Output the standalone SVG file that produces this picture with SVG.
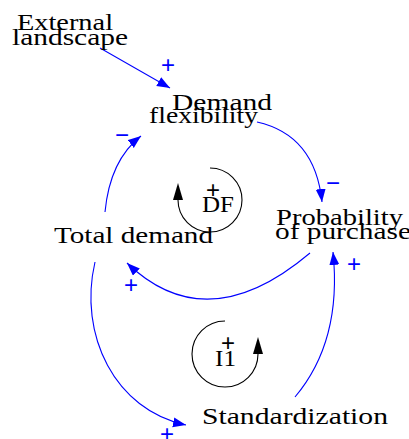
<svg xmlns="http://www.w3.org/2000/svg" width="409" height="439" viewBox="0 0 409 439">
<defs>
<marker id="ab" markerUnits="userSpaceOnUse" markerWidth="16" markerHeight="12" refX="13" refY="5" orient="auto" viewBox="0 0 16 12">
<path d="M0,0 L13,5 L0,10 z" fill="#00f"/>
</marker>
<marker id="ak" markerUnits="userSpaceOnUse" markerWidth="18" markerHeight="12" refX="0" refY="5" orient="auto" viewBox="0 0 18 12">
<path d="M0,0 L17,5 L0,10 z" fill="#000"/>
</marker>
</defs>
<rect width="409" height="439" fill="#fff"/>
<g id="connectors" fill="none" stroke="#00f" stroke-width="1.1" marker-end="url(#ab)">
<path d="M100,48 L170,88"/>
<path d="M257,122 Q315,135 322,202"/>
<path d="M310,253 Q207,340 127,263"/>
<path d="M105,212 Q110,160 141,136"/>
<path d="M95,262 C78,335 115,410 186,425"/>
<path d="M295,397 C322,365 340,320 333,252"/>
</g>
<g id="polarities" font-family="Liberation Sans, sans-serif" font-size="24" fill="#00f" text-anchor="middle">
<text x="168" y="73">+</text>
<text x="333" y="191">−</text>
<text x="122" y="143">−</text>
<text x="131" y="293">+</text>
<text x="354" y="272">+</text>
<text x="167" y="442">+</text>
</g>
<g font-family="Liberation Serif, serif" font-size="23" fill="#000">
<g id="external-landscape">
<text x="17" y="30" textLength="96" lengthAdjust="spacingAndGlyphs">External</text>
<text x="12" y="45" textLength="116" lengthAdjust="spacingAndGlyphs">landscape</text>
</g>
<g id="demand-flexibility">
<text x="172" y="110" textLength="100" lengthAdjust="spacingAndGlyphs">Demand</text>
<text x="149" y="123" textLength="109" lengthAdjust="spacingAndGlyphs">flexibility</text>
</g>
<g id="total-demand">
<text x="54" y="243" textLength="159" lengthAdjust="spacingAndGlyphs">Total demand</text>
</g>
<g id="probability-of-purchase">
<text x="276" y="225" textLength="127" lengthAdjust="spacingAndGlyphs">Probability</text>
<text x="275" y="239" textLength="136" lengthAdjust="spacingAndGlyphs">of purchase</text>
</g>
<g id="standardization">
<text x="202" y="424" textLength="186" lengthAdjust="spacingAndGlyphs">Standardization</text>
</g>
<g id="loop-DF">
<path d="M210,168 A32,32 0 1 1 178,200" fill="none" stroke="#000" stroke-width="1.1" marker-end="url(#ak)"/>
<text x="202" y="212" textLength="32" lengthAdjust="spacingAndGlyphs">DF</text>
<text x="213" y="198" font-family="Liberation Sans, sans-serif" font-size="24" text-anchor="middle">+</text>
</g>
<g id="loop-I1">
<path d="M225,321 A33,33 0 1 0 258,354" fill="none" stroke="#000" stroke-width="1.1" marker-end="url(#ak)"/>
<text x="215" y="366" textLength="21" lengthAdjust="spacingAndGlyphs">I1</text>
<text x="228" y="351" font-family="Liberation Sans, sans-serif" font-size="24" text-anchor="middle">+</text>
</g>
</g>
</svg>
